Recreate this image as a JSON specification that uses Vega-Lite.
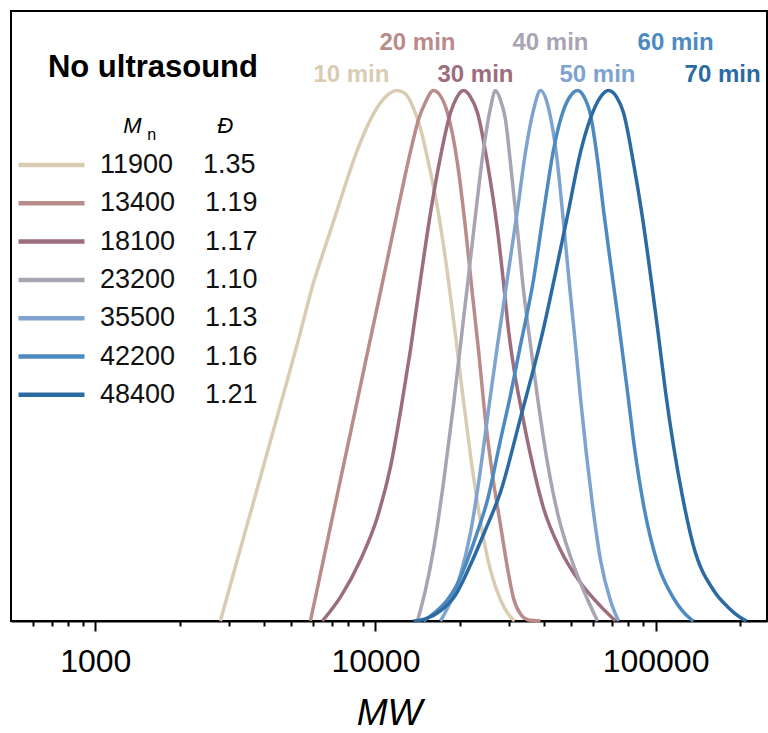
{
"$schema": "https://vega.github.io/schema/vega-lite/v6.json",
"width": 756, "height": 610,
"autosize": {"type": "none"},
"padding": {"left": 11, "top": 11, "right": 1, "bottom": 112},
"background": "white",
"config": {"font": "Liberation Sans", "view": {"stroke": "black", "strokeWidth": 2}},
"datasets": {
"samples": [
{"t":"10 min","label":"11900\u00a0\u00a0\u00a0\u00a01.35"},{"t":"20 min","label":"13400\u00a0\u00a0\u00a0\u00a01.19"},{"t":"30 min","label":"18100\u00a0\u00a0\u00a0\u00a01.17"},{"t":"40 min","label":"23200\u00a0\u00a0\u00a0\u00a01.10"},{"t":"50 min","label":"35500\u00a0\u00a0\u00a0\u00a01.13"},{"t":"60 min","label":"42200\u00a0\u00a0\u00a0\u00a01.16"},{"t":"70 min","label":"48400\u00a0\u00a0\u00a0\u00a01.21"}],
"timelabels": [
{"t":"10 min","mw":8210,"v":1.0162},{"t":"20 min","mw":14125,"v":1.0765},{"t":"30 min","mw":22758,"v":1.0162},{"t":"40 min","mw":42170,"v":1.0765},{"t":"50 min","mw":62067,"v":1.0162},{"t":"60 min","mw":117880,"v":1.0765},{"t":"70 min","mw":173500,"v":1.0162}],
"curves": [
{"t":"10 min","mw":2795,"v":0},{"t":"10 min","mw":3295,"v":0.136},{"t":"10 min","mw":3884,"v":0.271},{"t":"10 min","mw":4579,"v":0.407},{"t":"10 min","mw":5309,"v":0.53},{"t":"10 min","mw":6006,"v":0.637},{"t":"10 min","mw":6629,"v":0.707},{"t":"10 min","mw":7377,"v":0.782},{"t":"10 min","mw":8624,"v":0.888},{"t":"10 min","mw":9837,"v":0.956},{"t":"10 min","mw":10857,"v":0.988},{"t":"10 min","mw":11983,"v":1},{"t":"10 min","mw":12798,"v":0.994},{"t":"10 min","mw":13668,"v":0.967},{"t":"10 min","mw":14478,"v":0.929},{"t":"10 min","mw":15336,"v":0.873},{"t":"10 min","mw":16651,"v":0.779},{"t":"10 min","mw":18078,"v":0.656},{"t":"10 min","mw":19307,"v":0.539},{"t":"10 min","mw":20451,"v":0.43},{"t":"10 min","mw":21842,"v":0.313},{"t":"10 min","mw":23714,"v":0.187},{"t":"10 min","mw":25746,"v":0.096},{"t":"10 min","mw":27953,"v":0.04},{"t":"10 min","mw":29609,"v":0.015},{"t":"10 min","mw":31364,"v":0},
{"t":"20 min","mw":5860,"v":0},{"t":"20 min","mw":6362,"v":0.089},{"t":"20 min","mw":7197,"v":0.222},{"t":"20 min","mw":8142,"v":0.354},{"t":"20 min","mw":9211,"v":0.488},{"t":"20 min","mw":10420,"v":0.62},{"t":"20 min","mw":11788,"v":0.754},{"t":"20 min","mw":12798,"v":0.843},{"t":"20 min","mw":13556,"v":0.901},{"t":"20 min","mw":14242,"v":0.945},{"t":"20 min","mw":15086,"v":0.978},{"t":"20 min","mw":16112,"v":1},{"t":"20 min","mw":17067,"v":0.99},{"t":"20 min","mw":18078,"v":0.958},{"t":"20 min","mw":19627,"v":0.863},{"t":"20 min","mw":20962,"v":0.741},{"t":"20 min","mw":22204,"v":0.615},{"t":"20 min","mw":23327,"v":0.511},{"t":"20 min","mw":24709,"v":0.379},{"t":"20 min","mw":26173,"v":0.275},{"t":"20 min","mw":27953,"v":0.181},{"t":"20 min","mw":29609,"v":0.1},{"t":"20 min","mw":31107,"v":0.043},{"t":"20 min","mw":32950,"v":0.013},{"t":"20 min","mw":35191,"v":0.002},{"t":"20 min","mw":38841,"v":0},
{"t":"30 min","mw":6467,"v":0},{"t":"30 min","mw":7499,"v":0.045},{"t":"30 min","mw":8840,"v":0.115},{"t":"30 min","mw":10166,"v":0.196},{"t":"30 min","mw":11313,"v":0.29},{"t":"30 min","mw":12486,"v":0.417},{"t":"30 min","mw":13335,"v":0.511},{"t":"30 min","mw":14478,"v":0.643},{"t":"30 min","mw":15719,"v":0.769},{"t":"30 min","mw":17067,"v":0.875},{"t":"30 min","mw":18529,"v":0.958},{"t":"30 min","mw":19466,"v":0.986},{"t":"30 min","mw":20620,"v":1},{"t":"30 min","mw":21842,"v":0.988},{"t":"30 min","mw":23136,"v":0.958},{"t":"30 min","mw":25119,"v":0.863},{"t":"30 min","mw":27272,"v":0.737},{"t":"30 min","mw":28651,"v":0.639},{"t":"30 min","mw":29854,"v":0.549},{"t":"30 min","mw":31364,"v":0.469},{"t":"30 min","mw":32950,"v":0.407},{"t":"30 min","mw":35775,"v":0.313},{"t":"30 min","mw":39812,"v":0.213},{"t":"30 min","mw":45786,"v":0.134},{"t":"30 min","mw":53969,"v":0.072},{"t":"30 min","mw":63618,"v":0.028},{"t":"30 min","mw":71969,"v":0},
{"t":"40 min","mw":14125,"v":0},{"t":"40 min","mw":15086,"v":0.058},{"t":"40 min","mw":16112,"v":0.134},{"t":"40 min","mw":17493,"v":0.26},{"t":"40 min","mw":18992,"v":0.407},{"t":"40 min","mw":20117,"v":0.52},{"t":"40 min","mw":21309,"v":0.633},{"t":"40 min","mw":22759,"v":0.765},{"t":"40 min","mw":24306,"v":0.888},{"t":"40 min","mw":25746,"v":0.967},{"t":"40 min","mw":26827,"v":1},{"t":"40 min","mw":27953,"v":0.982},{"t":"40 min","mw":29126,"v":0.945},{"t":"40 min","mw":30349,"v":0.863},{"t":"40 min","mw":32148,"v":0.737},{"t":"40 min","mw":33773,"v":0.624},{"t":"40 min","mw":35191,"v":0.549},{"t":"40 min","mw":37895,"v":0.422},{"t":"40 min","mw":41143,"v":0.298},{"t":"40 min","mw":44670,"v":0.204},{"t":"40 min","mw":49710,"v":0.121},{"t":"40 min","mw":55317,"v":0.058},{"t":"40 min","mw":62067,"v":0},
{"t":"50 min","mw":17067,"v":0},{"t":"50 min","mw":18529,"v":0.036},{"t":"50 min","mw":20117,"v":0.087},{"t":"50 min","mw":21842,"v":0.166},{"t":"50 min","mw":23714,"v":0.285},{"t":"50 min","mw":25326,"v":0.398},{"t":"50 min","mw":27272,"v":0.52},{"t":"50 min","mw":29609,"v":0.647},{"t":"50 min","mw":32148,"v":0.775},{"t":"50 min","mw":34334,"v":0.884},{"t":"50 min","mw":36668,"v":0.963},{"t":"50 min","mw":38841,"v":1},{"t":"50 min","mw":41483,"v":0.967},{"t":"50 min","mw":44304,"v":0.879},{"t":"50 min","mw":46930,"v":0.752},{"t":"50 min","mw":49303,"v":0.633},{"t":"50 min","mw":51795,"v":0.52},{"t":"50 min","mw":53969,"v":0.42},{"t":"50 min","mw":56698,"v":0.313},{"t":"50 min","mw":59567,"v":0.219},{"t":"50 min","mw":63618,"v":0.115},{"t":"50 min","mw":69070,"v":0.038},{"t":"50 min","mw":73766,"v":0},
{"t":"60 min","mw":14840,"v":0},{"t":"60 min","mw":16379,"v":0.017},{"t":"60 min","mw":18078,"v":0.04},{"t":"60 min","mw":19627,"v":0.07},{"t":"60 min","mw":21309,"v":0.115},{"t":"60 min","mw":23136,"v":0.168},{"t":"60 min","mw":25119,"v":0.228},{"t":"60 min","mw":27953,"v":0.341},{"t":"60 min","mw":30349,"v":0.426},{"t":"60 min","mw":32950,"v":0.52},{"t":"60 min","mw":36668,"v":0.643},{"t":"60 min","mw":39812,"v":0.769},{"t":"60 min","mw":43225,"v":0.888},{"t":"60 min","mw":46930,"v":0.963},{"t":"60 min","mw":49710,"v":0.99},{"t":"60 min","mw":52654,"v":1},{"t":"60 min","mw":55317,"v":0.99},{"t":"60 min","mw":58595,"v":0.954},{"t":"60 min","mw":62067,"v":0.869},{"t":"60 min","mw":65207,"v":0.775},{"t":"60 min","mw":69070,"v":0.675},{"t":"60 min","mw":73766,"v":0.564},{"t":"60 min","mw":79433,"v":0.432},{"t":"60 min","mw":84140,"v":0.326},{"t":"60 min","mw":90604,"v":0.219},{"t":"60 min","mw":101658,"v":0.109},{"t":"60 min","mw":115953,"v":0.043},{"t":"60 min","mw":133352,"v":0.004},{"t":"60 min","mw":136683,"v":0},
{"t":"70 min","mw":13668,"v":0},{"t":"70 min","mw":15086,"v":0.004},{"t":"70 min","mw":17067,"v":0.019},{"t":"70 min","mw":19307,"v":0.049},{"t":"70 min","mw":21842,"v":0.106},{"t":"70 min","mw":24709,"v":0.172},{"t":"70 min","mw":27953,"v":0.243},{"t":"70 min","mw":32950,"v":0.383},{"t":"70 min","mw":39485,"v":0.543},{"t":"70 min","mw":43941,"v":0.656},{"t":"70 min","mw":48499,"v":0.764},{"t":"70 min","mw":53969,"v":0.884},{"t":"70 min","mw":58595,"v":0.948},{"t":"70 min","mw":63618,"v":0.988},{"t":"70 min","mw":67944,"v":1},{"t":"70 min","mw":72563,"v":0.988},{"t":"70 min","mw":76863,"v":0.958},{"t":"70 min","mw":83450,"v":0.863},{"t":"70 min","mw":89861,"v":0.76},{"t":"70 min","mw":95972,"v":0.652},{"t":"70 min","mw":101658,"v":0.552},{"t":"70 min","mw":108571,"v":0.432},{"t":"70 min","mw":115953,"v":0.33},{"t":"70 min","mw":124862,"v":0.234},{"t":"70 min","mw":136683,"v":0.141},{"t":"70 min","mw":161117,"v":0.058},{"t":"70 min","mw":182270,"v":0.025},{"t":"70 min","mw":204509,"v":0.004},{"t":"70 min","mw":211348,"v":0}
]
},
"layer": [
{
"data": {"name": "curves"},
"transform": [{"lookup": "t", "from": {"data": {"name": "samples"}, "key": "t", "fields": ["label"]}}],
"mark": {"type": "line", "strokeWidth": 3.5, "interpolate": "monotone"},
"encoding": {
"x": {"field": "mw", "type": "quantitative", "title": "MW",
 "scale": {"type": "log", "domain": [500, 250000], "nice": false},
 "axis": {
  "values": [600,700,800,900,1000,2000,3000,4000,5000,6000,7000,8000,9000,10000,20000,30000,40000,50000,60000,70000,80000,90000,100000,200000],
  "format": "d",
  "labelExpr": "indexof([1000,10000,100000], datum.value) >= 0 ? datum.label : ''",
  "tickSize": {"condition": {"test": "indexof([1000,10000,100000], datum.value) >= 0", "value": 10}, "value": 5},
  "tickWidth": 2, "tickColor": "black", "domainColor": "black", "domainWidth": 2,
  "labelFontSize": 32, "labelColor": "black", "labelPadding": 15, "labelOverlap": false, "labelFlush": false,
  "grid": false,
  "titleFontSize": 37, "titleFontStyle": "italic", "titleFontWeight": "normal", "titleColor": "black", "titlePadding": 18
 }},
"y": {"field": "v", "type": "quantitative", "scale": {"domain": [0, 1.15], "nice": false}, "axis": null},
"color": {"field": "label", "type": "nominal",
 "scale": {"range": ["#DACBB3", "#B98B89", "#9C6D7C", "#A9A4B4", "#7FA3CF", "#4C8AC0", "#2C6AA2"]},
 "legend": {
  "title": "No ultrasound", "orient": "none", "legendX": 5, "legendY": 42,
  "titleFontSize": 31, "titleFontWeight": "bold", "titleColor": "black", "titleAnchor": "end", "titlePadding": 63, "titleLimit": 500,
  "labelFontSize": 27, "labelColor": "#111111", "labelOffset": 13, "labelLimit": 400,
  "symbolType": "stroke", "symbolSize": 4356, "symbolStrokeWidth": 4.5,
  "clipHeight": 36, "rowPadding": 2.3, "padding": 0
 }}
}
},
{
"data": {"name": "timelabels"},
"transform": [{"lookup": "t", "from": {"data": {"name": "samples"}, "key": "t", "fields": ["label"]}}],
"mark": {"type": "text", "fontSize": 24, "fontWeight": "bold", "align": "center", "baseline": "alphabetic"},
"encoding": {
"x": {"field": "mw", "type": "quantitative"},
"y": {"field": "v", "type": "quantitative"},
"text": {"field": "t"},
"color": {"field": "label", "type": "nominal", "legend": null}
}
},
{
"data": {"values": [{"s": "M", "mw": 1259, "v": 0.92}, {"s": "Đ", "mw": 2727, "v": 0.92}]},
"mark": {"type": "text", "fontSize": 22, "fontStyle": "italic", "align": "left", "baseline": "alphabetic", "color": "black"},
"encoding": {
"x": {"field": "mw", "type": "quantitative"},
"y": {"field": "v", "type": "quantitative"},
"text": {"field": "s"}
}
},
{
"data": {"values": [{"s": "n", "mw": 1534, "v": 0.907}]},
"mark": {"type": "text", "fontSize": 16, "align": "left", "baseline": "alphabetic", "color": "black"},
"encoding": {
"x": {"field": "mw", "type": "quantitative"},
"y": {"field": "v", "type": "quantitative"},
"text": {"field": "s"}
}
}
]
}
